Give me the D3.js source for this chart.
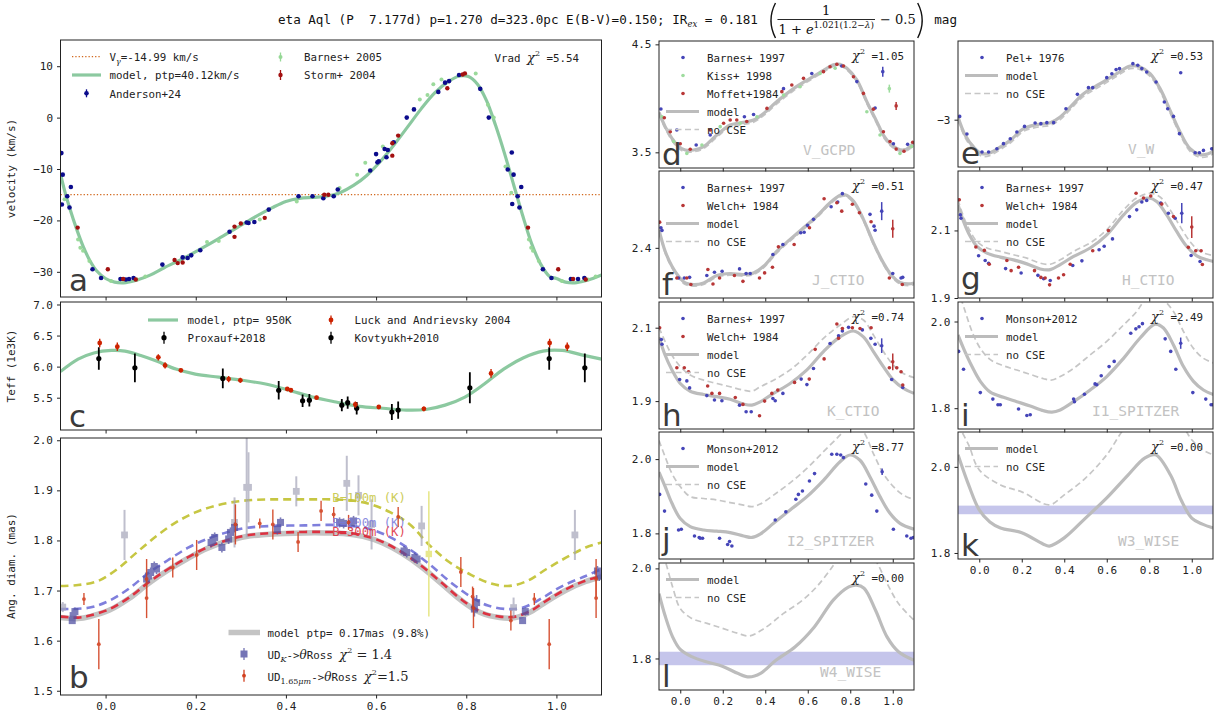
<!DOCTYPE html>
<html><head><meta charset="utf-8">
<script src="https://cdn.jsdelivr.net/npm/d3@7"></script>
<style>
body{margin:0;background:#fff;}
svg text{white-space:pre;}
</style></head><body>
<svg id="chart" width="1217" height="718"></svg>
<script>
// ================= DATA =================
const phaseTicks = [0.0, 0.2, 0.4, 0.6, 0.8, 1.0];
const vGamma = -14.99;
// panel a : radial velocity  [phase, km/s, err]
const velModel = [[-0.1,-11.0],[-0.09,-14.5],[-0.08,-17.5],[-0.065,-21.5],[-0.05,-25.0],[-0.035,-27.8],[-0.02,-29.8],[0.0,-31.3],[0.02,-32.0],[0.045,-32.1],[0.07,-31.6],[0.1,-30.6],[0.13,-29.2],[0.17,-27.5],[0.21,-25.6],[0.25,-23.6],[0.29,-21.5],[0.33,-19.4],[0.37,-17.5],[0.40,-16.3],[0.43,-15.7],[0.46,-15.5],[0.49,-15.3],[0.52,-14.6],[0.55,-13.2],[0.58,-11.2],[0.61,-8.5],[0.64,-5.3],[0.67,-1.8],[0.70,1.7],[0.73,4.8],[0.76,7.0],[0.785,8.1],[0.805,8.0],[0.825,6.5],[0.845,3.3],[0.865,-1.5],[0.885,-7.0],[0.905,-13.0],[0.925,-19.0],[0.945,-24.5],[0.965,-28.5],[0.985,-30.9],[1.0,-31.3],[1.02,-32.0],[1.045,-32.1],[1.07,-31.6],[1.1,-30.6]];
const velAnderson = [[-0.098,-6.9],[-0.095,-11.1],[-0.097,-16.9],[-0.085,-15.3],[-0.080,-17.5],[-0.077,-13.5],[-0.029,-29.5],[-0.010,-31.2],[0.033,-31.4],[0.045,-31.5],[0.052,-31.4],[0.062,-31.2],[0.126,-28.6],[0.171,-27.2],[0.182,-27.3],[0.190,-26.8],[0.210,-25.8],[0.275,-22.2],[0.313,-20.4],[0.317,-20.5],[0.330,-20.3],[0.362,-17.9],[0.428,-15.3],[0.459,-15.3],[0.483,-15.7],[0.506,-15.3],[0.515,-14.0],[0.587,-10.3],[0.600,-7.1],[0.603,-8.7],[0.606,-8.5],[0.619,-6.1],[0.623,-7.7],[0.626,-6.3],[0.639,-4.8],[0.668,0.0],[0.684,1.6],[0.738,5.0],[0.753,6.8],[0.762,7.1],[0.784,8.3],[0.831,5.6],[0.850,0.0],[0.892,-10.1],[0.901,-6.8],[0.902,-16.8],[0.905,-11.1],[0.914,-15.3],[0.918,-17.5],[0.922,-13.5],[0.970,-29.5],[0.989,-31.2],[1.032,-31.4],[1.048,-31.4],[1.062,-31.2]];
const velStorm = [[-0.062,-21.4],[0.005,-29.5],[0.039,-31.4],[0.067,-31.5],[0.153,-27.7],[0.160,-28.3],[0.171,-28.2],[0.286,-23.2],[0.286,-21.2],[0.300,-20.6],[0.353,-19.5],[0.485,-15.0],[0.494,-15.0],[0.636,-7.4],[0.636,-5.0],[0.649,-3.5],[0.758,5.7],[0.792,8.4],[0.797,8.6],[0.937,-21.4],[1.004,-29.5],[1.037,-31.4],[1.065,-31.5]];
const velBarnes = [[-0.091,-15.9],[-0.061,-23.7],[-0.056,-25.3],[-0.05,-25.9],[-0.036,-27.9],[0.012,-31.8],[0.07,-31.5],[0.088,-30.9],[0.225,-24.2],[0.251,-24.0],[0.342,-19.8],[0.424,-16.3],[0.519,-13.7],[0.558,-11.1],[0.576,-8.8],[0.615,-5.6],[0.697,3.5],[0.714,4.4],[0.727,6.5],[0.745,7.4],[0.821,8.6],[0.848,2.5],[0.861,0.0],[0.887,-9.5],[0.900,-14.6],[0.939,-23.7],[0.944,-25.3],[0.948,-25.9],[0.961,-27.9],[1.012,-31.8],[1.07,-31.5],[1.087,-30.9]];
// panel c : Teff (1e3 K)
const teffModel = [[-0.1,5.92],[-0.061,6.12],[-0.026,6.22],[0.013,6.26],[0.043,6.25],[0.078,6.18],[0.113,6.09],[0.156,5.96],[0.199,5.88],[0.251,5.83],[0.303,5.78],[0.355,5.72],[0.407,5.62],[0.459,5.51],[0.511,5.43],[0.563,5.36],[0.615,5.33],[0.667,5.30],[0.71,5.31],[0.753,5.38],[0.797,5.51],[0.84,5.72],[0.883,5.96],[0.926,6.14],[0.97,6.25],[1.013,6.26],[1.056,6.19],[1.1,6.12]];
const teffLuck = [[-0.013,6.38,0.07],[0.026,6.32,0.07],[0.117,6.15,0.05],[0.132,6.02,0.05],[0.167,5.94,0.03],[0.273,5.80,0.05],[0.299,5.78,0.04],[0.403,5.64,0.03],[0.411,5.62,0.03],[0.468,5.50,0.03],[0.554,5.39,0.05],[0.606,5.35,0.03],[0.706,5.32,0.04],[0.855,5.89,0.07],[0.985,6.38,0.07],[1.024,6.32,0.07]];
const teffProxauf = [[-0.015,6.13,0.18],[0.065,5.98,0.23],[0.26,5.81,0.16],[0.384,5.62,0.15],[0.808,5.66,0.25],[0.984,6.13,0.18],[1.063,5.98,0.23]];
const teffKovtyukh = [[0.437,5.45,0.1],[0.452,5.46,0.1],[0.524,5.38,0.1],[0.537,5.42,0.1],[0.557,5.33,0.1],[0.635,5.27,0.13],[0.649,5.30,0.14]];
// panel b : angular diameter (mas)
const diamModel = [[-0.1,1.646],[-0.061,1.644],[-0.035,1.648],[0.009,1.661],[0.052,1.684],[0.095,1.714],[0.139,1.741],[0.182,1.764],[0.225,1.784],[0.268,1.798],[0.312,1.808],[0.355,1.812],[0.398,1.814],[0.442,1.815],[0.485,1.815],[0.528,1.814],[0.571,1.808],[0.615,1.795],[0.658,1.774],[0.701,1.747],[0.745,1.714],[0.788,1.681],[0.831,1.656],[0.874,1.646],[0.909,1.646],[0.944,1.658],[0.978,1.678],[1.022,1.701],[1.065,1.718],[1.1,1.727]];
const diamB300 = [[-0.1,1.648],[-0.061,1.646],[-0.035,1.650],[0.009,1.663],[0.052,1.686],[0.095,1.716],[0.139,1.743],[0.182,1.766],[0.225,1.786],[0.268,1.800],[0.312,1.810],[0.355,1.814],[0.398,1.816],[0.442,1.817],[0.485,1.817],[0.528,1.816],[0.571,1.810],[0.615,1.797],[0.658,1.776],[0.701,1.749],[0.745,1.716],[0.788,1.683],[0.831,1.658],[0.874,1.648],[0.909,1.648],[0.944,1.660],[0.978,1.680],[1.022,1.703],[1.065,1.720],[1.1,1.729]];
const diamB200 = [[-0.1,1.663],[-0.035,1.666],[0.009,1.68],[0.052,1.704],[0.095,1.735],[0.139,1.761],[0.182,1.785],[0.225,1.803],[0.268,1.816],[0.312,1.825],[0.372,1.829],[0.442,1.830],[0.502,1.831],[0.545,1.829],[0.589,1.822],[0.632,1.806],[0.675,1.782],[0.719,1.752],[0.762,1.719],[0.806,1.69],[0.848,1.67],[0.892,1.663],[0.926,1.666],[0.97,1.686],[1.013,1.709],[1.065,1.729],[1.1,1.743]];
const diamB100 = [[-0.1,1.709],[-0.061,1.711],[-0.017,1.719],[0.026,1.743],[0.069,1.776],[0.113,1.809],[0.156,1.836],[0.199,1.856],[0.242,1.869],[0.286,1.877],[0.329,1.881],[0.372,1.882],[0.416,1.882],[0.459,1.882],[0.502,1.882],[0.545,1.880],[0.589,1.872],[0.632,1.856],[0.675,1.832],[0.719,1.79],[0.762,1.757],[0.805,1.734],[0.848,1.716],[0.892,1.709],[0.935,1.719],[0.978,1.743],[1.022,1.766],[1.065,1.786],[1.1,1.796]];
const diamOther = [[-0.095,1.667,0.01],[0.042,1.811,0.05],[0.286,1.836,0.05],[0.313,1.906,0.1],[0.317,1.906,0.07],[0.423,1.898,0.03],[0.535,1.914,0.055],[0.561,1.890,0.04],[0.590,1.832,0.05],[0.701,1.829,0.04],[0.905,1.666,0.02],[1.041,1.811,0.05]];
const diamYellow = [[0.717,1.773,0.125]];
const diamUDK = [[-0.074,1.640,0.006],[-0.072,1.650,0.008],[-0.068,1.658,0.008],[0.091,1.723,0.01],[0.095,1.729,0.01],[0.1,1.736,0.01],[0.108,1.748,0.01],[0.113,1.743,0.01],[0.234,1.796,0.01],[0.238,1.800,0.01],[0.242,1.806,0.01],[0.258,1.786,0.01],[0.273,1.803,0.01],[0.277,1.816,0.01],[0.286,1.826,0.01],[0.381,1.822,0.01],[0.388,1.836,0.01],[0.519,1.836,0.01],[0.528,1.834,0.01],[0.545,1.834,0.01],[0.55,1.839,0.01],[0.662,1.779,0.01],[0.668,1.776,0.01],[0.686,1.766,0.01],[0.691,1.763,0.01],[0.818,1.663,0.015],[0.823,1.676,0.015],[0.925,1.640,0.006],[0.931,1.658,0.008],[1.091,1.739,0.01],[1.095,1.729,0.01]];
const diamUD165 = [[-0.048,1.683,0.012],[-0.015,1.593,0.05],[0.091,1.723,0.04],[0.091,1.685,0.04],[0.149,1.746,0.02],[0.202,1.771,0.03],[0.288,1.832,0.04],[0.342,1.834,0.01],[0.371,1.832,0.03],[0.427,1.797,0.02],[0.478,1.859,0.02],[0.506,1.852,0.015],[0.539,1.836,0.015],[0.649,1.847,0.02],[0.788,1.737,0.03],[0.814,1.688,0.02],[0.816,1.665,0.04],[0.899,1.640,0.02],[0.951,1.683,0.012],[0.984,1.593,0.05],[1.088,1.723,0.04],[1.088,1.685,0.04]];
// panel d : V_GCPD (mag)
const vgcpdModel = [[-0.1,3.87],[-0.071,3.738],[-0.039,3.63],[-0.008,3.553],[0.024,3.522],[0.063,3.522],[0.11,3.553],[0.172,3.66],[0.235,3.753],[0.298,3.778],[0.345,3.80],[0.392,3.86],[0.455,3.97],[0.533,4.09],[0.611,4.185],[0.674,4.26],[0.721,4.31],[0.752,4.315],[0.784,4.278],[0.831,4.17],[0.878,3.97],[0.925,3.784],[0.956,3.66],[0.987,3.583],[1.019,3.537],[1.05,3.522],[1.082,3.553],[1.1,3.6]];
const vgcpdNoCSE = [[-0.1,3.85],[-0.071,3.72],[-0.039,3.61],[-0.008,3.535],[0.024,3.505],[0.063,3.505],[0.11,3.535],[0.172,3.64],[0.235,3.735],[0.298,3.758],[0.345,3.78],[0.392,3.84],[0.455,3.95],[0.533,4.07],[0.611,4.167],[0.674,4.243],[0.721,4.295],[0.752,4.30],[0.784,4.263],[0.831,4.153],[0.878,3.952],[0.925,3.765],[0.956,3.64],[0.987,3.565],[1.019,3.52],[1.05,3.505],[1.082,3.535],[1.1,3.58]];
const vgcpdBarnes = [[-0.091,3.901],[-0.016,3.707],[0.075,3.568],[0.141,3.66],[0.302,3.83],[0.345,3.85],[0.486,4.09],[0.619,4.23],[0.76,4.30],[0.831,4.155],[0.917,3.91],[1.003,3.58],[1.07,3.574],[0.953,4.247,0.046]];
const vgcpdKiss = [[-0.086,3.83],[-0.031,3.6],[0.031,3.49],[0.102,3.568],[0.188,3.738],[0.282,3.77],[0.361,3.83],[0.486,4.03],[0.564,4.108],[0.658,4.23],[0.729,4.278],[0.878,3.876],[0.94,3.66],[1.034,3.49],[1.089,3.553],[0.984,4.09,0.037]];
const vgcpdMoffet = [[-0.075,3.82],[-0.047,3.69],[0,3.58],[0.047,3.528],[0.141,3.707],[0.204,3.77],[0.235,3.80],[0.266,3.80],[0.313,3.785],[0.408,3.907],[0.478,4.062],[0.525,4.123],[0.58,4.185],[0.674,4.247],[0.705,4.293],[0.737,4.315],[0.768,4.30],[0.815,4.2],[0.862,4.046],[0.909,3.90],[0.956,3.69],[0.987,3.6],[1.016,3.53],[1.053,3.51],[1.094,3.593],[1.016,3.93,0.037]];
// panel e : V_W
const vwModel = [[-0.1,-2.976],[-0.066,-3.142],[-0.027,-3.248],[0.013,-3.309],[0.052,-3.3],[0.099,-3.248],[0.146,-3.188],[0.208,-3.082],[0.271,-3.045],[0.334,-3.027],[0.381,-2.976],[0.428,-2.885],[0.491,-2.764],[0.569,-2.673],[0.647,-2.582],[0.71,-2.512],[0.757,-2.521],[0.804,-2.582],[0.851,-2.718],[0.898,-2.915],[0.945,-3.112],[0.992,-3.264],[1.039,-3.318],[1.078,-3.309],[1.105,-3.279]];
const vwNoCSE = [[-0.1,-3.0],[-0.066,-3.166],[-0.027,-3.272],[0.013,-3.333],[0.052,-3.324],[0.099,-3.272],[0.146,-3.212],[0.208,-3.106],[0.271,-3.069],[0.334,-3.051],[0.381,-3.0],[0.428,-2.909],[0.491,-2.788],[0.569,-2.697],[0.647,-2.606],[0.71,-2.536],[0.757,-2.545],[0.804,-2.606],[0.851,-2.742],[0.898,-2.939],[0.945,-3.136],[0.992,-3.288],[1.039,-3.342],[1.078,-3.333],[1.105,-3.303]];
const vwPel = [[-0.092,-2.970],[-0.058,-3.130],[0.013,-3.294],[0.044,-3.294],[0.083,-3.264],[0.114,-3.218],[0.146,-3.173],[0.177,-3.112],[0.213,-3.061],[0.263,-3.030],[0.29,-3.036],[0.318,-3.027],[0.35,-3.027],[0.408,-2.900],[0.462,-2.770],[0.514,-2.709],[0.534,-2.709],[0.6,-2.618],[0.624,-2.582],[0.644,-2.545],[0.66,-2.536],[0.723,-2.491],[0.746,-2.506],[0.765,-2.536],[0.788,-2.567],[0.832,-2.658],[0.871,-2.839],[0.887,-2.9],[0.914,-2.970],[0.942,-3.127],[0.948,-2.573,0.006],[1.016,-3.3],[1.036,-3.3],[1.055,-3.279],[1.094,-3.264]];
// panel f : J_CTIO
const jModel = [[-0.1,2.49],[-0.071,2.383],[-0.039,2.308],[-0.008,2.258],[0.024,2.225],[0.063,2.217],[0.11,2.225],[0.172,2.262],[0.235,2.272],[0.298,2.267],[0.345,2.275],[0.392,2.308],[0.455,2.383],[0.517,2.442],[0.58,2.5],[0.643,2.558],[0.705,2.625],[0.752,2.662],[0.776,2.665],[0.815,2.633],[0.862,2.542],[0.909,2.425],[0.956,2.325],[0.995,2.262],[1.034,2.228],[1.074,2.22],[1.1,2.225]];
const jNoCSE = [[-0.1,2.482],[-0.071,2.375],[-0.039,2.3],[-0.008,2.25],[0.024,2.217],[0.063,2.209],[0.11,2.217],[0.172,2.254],[0.235,2.264],[0.298,2.259],[0.345,2.267],[0.392,2.3],[0.455,2.375],[0.517,2.434],[0.58,2.492],[0.643,2.55],[0.705,2.617],[0.752,2.654],[0.776,2.657],[0.815,2.625],[0.862,2.534],[0.909,2.417],[0.956,2.317],[0.995,2.254],[1.034,2.22],[1.074,2.212],[1.1,2.217]];
const jBarnes = [[-0.091,2.5],[-0.086,2.487],[-0.008,2.25],[0.019,2.25],[0.044,2.253],[0.125,2.262],[0.161,2.278],[0.197,2.283],[0.279,2.295],[0.31,2.272],[0.329,2.272],[0.436,2.367],[0.483,2.417],[0.567,2.475],[0.583,2.478],[0.599,2.512],[0.627,2.542],[0.71,2.605],[0.741,2.628],[0.763,2.67],[0.893,2.567],[0.912,2.508],[0.917,2.488],[1.0,2.272],[1.039,2.25],[1.047,2.253],[0.948,2.583,0.045]];
const jWelch = [[-0.097,2.528],[-0.016,2.25],[0.031,2.25],[0.05,2.217],[0.13,2.292],[0.154,2.22],[0.185,2.25],[0.255,2.262],[0.295,2.233],[0.373,2.25],[0.397,2.275],[0.434,2.303],[0.462,2.405],[0.536,2.417],[0.608,2.5],[0.677,2.645],[0.737,2.625],[0.76,2.583],[0.81,2.617],[0.843,2.575],[0.898,2.53],[0.984,2.25],[1.045,2.217],[1.0,2.495,0.045]];
// panel g : H_CTIO
const hModel = [[-0.1,2.176],[-0.074,2.127],[-0.042,2.082],[-0.011,2.053],[0.036,2.033],[0.099,2.021],[0.161,2.013],[0.224,2.001],[0.287,1.986],[0.334,1.984],[0.381,1.999],[0.444,2.023],[0.522,2.048],[0.6,2.087],[0.679,2.146],[0.741,2.183],[0.796,2.196],[0.835,2.186],[0.882,2.146],[0.929,2.097],[0.976,2.053],[1.024,2.025],[1.071,2.013],[1.105,2.008]];
const hNoCSE = [[-0.1,2.191],[-0.074,2.141],[-0.042,2.097],[-0.011,2.067],[0.036,2.048],[0.099,2.038],[0.161,2.028],[0.224,2.018],[0.287,2.003],[0.334,2.0],[0.381,2.013],[0.444,2.038],[0.522,2.063],[0.6,2.102],[0.679,2.161],[0.741,2.196],[0.804,2.21],[0.851,2.199],[0.898,2.161],[0.945,2.112],[0.992,2.067],[1.039,2.038],[1.105,2.025]];
const hBarnes = [[-0.089,2.146],[-0.086,2.136],[-0.003,2.025],[0.028,2.011],[0.044,2.003],[0.124,1.987],[0.197,1.974],[0.276,1.967],[0.303,1.957],[0.334,1.952],[0.44,1.996],[0.483,2.01],[0.564,2.043],[0.588,2.053],[0.627,2.075],[0.707,2.141],[0.741,2.161],[0.765,2.184],[0.788,2.189],[0.854,2.181],[0.89,2.151],[0.922,2.136],[0.997,2.026],[1.039,2.008],[0.953,2.151,0.03]];
const hWelch = [[-0.094,2.191],[-0.016,2.051],[0.024,2.041],[0.047,2.0],[0.13,2.011],[0.15,1.981],[0.185,1.991],[0.26,1.981],[0.29,1.961],[0.31,1.959],[0.331,1.939],[0.373,1.959],[0.397,1.969],[0.428,2.0],[0.534,2.04],[0.608,2.1],[0.738,2.21],[0.773,2.196],[0.807,2.202],[0.859,2.178],[0.914,2.141],[0.984,2.05],[1.019,2.04],[1.044,2.04],[1.05,1.999],[1.0,2.11,0.032]];
// panel h : K_CTIO
const kModel = [[-0.1,2.074],[-0.071,2.025],[-0.039,1.985],[0,1.948],[0.047,1.927],[0.11,1.918],[0.172,1.912],[0.235,1.905],[0.298,1.892],[0.337,1.889],[0.376,1.898],[0.439,1.921],[0.517,1.948],[0.596,1.985],[0.674,2.035],[0.752,2.075],[0.815,2.091],[0.862,2.075],[0.909,2.035],[0.956,1.994],[1.003,1.957],[1.05,1.935],[1.1,1.921]];
const kNoCSE = [[-0.1,2.1],[-0.071,2.062],[-0.039,2.025],[0,1.994],[0.047,1.971],[0.11,1.957],[0.172,1.948],[0.235,1.939],[0.298,1.93],[0.337,1.927],[0.376,1.939],[0.439,1.957],[0.517,1.985],[0.596,2.025],[0.674,2.071],[0.752,2.107],[0.815,2.13],[0.862,2.121],[0.909,2.08],[0.956,2.035],[1.003,1.998],[1.05,1.975],[1.1,1.964]];
const kBarnes = [[-0.089,2.068],[-0.086,2.055],[-0.003,1.959],[0.031,1.955],[0.044,1.936],[0.125,1.915],[0.161,1.903],[0.196,1.901],[0.279,1.889],[0.31,1.871],[0.334,1.871],[0.436,1.907],[0.447,1.901],[0.483,1.921],[0.569,1.96],[0.596,1.945],[0.627,1.989],[0.705,2.057],[0.745,2.078],[0.763,2.091],[0.792,2.101],[0.857,2.094],[0.897,2.071],[0.917,2.055],[0.995,1.959],[1.047,1.937],[0.948,2.051,0.02]];
const kWelch = [[-0.097,2.1],[-0.016,1.991],[0.019,1.991],[0.039,1.98],[0.129,1.941],[0.149,1.921],[0.185,1.921],[0.259,1.91],[0.295,1.891],[0.373,1.86],[0.397,1.9],[0.431,1.921],[0.459,1.93],[0.538,1.951],[0.607,1.96],[0.635,2.041],[0.677,2.015],[0.737,2.11],[0.745,2.071],[0.763,2.098],[0.81,2.1],[0.846,2.098],[0.898,2.1],[0.984,1.991],[1.019,1.991],[1.039,1.98],[1.047,1.944],[1.0,2.007,0.023]];
// panel i : I1_SPITZER
const i1Model = [[-0.1,1.969],[-0.074,1.938],[-0.034,1.896],[0.005,1.862],[0.052,1.837],[0.114,1.825],[0.177,1.815],[0.24,1.805],[0.303,1.794],[0.342,1.791],[0.381,1.796],[0.444,1.815],[0.522,1.842],[0.6,1.873],[0.679,1.915],[0.757,1.962],[0.828,1.994],[0.867,1.985],[0.914,1.946],[0.961,1.896],[1.008,1.862],[1.055,1.842],[1.105,1.831]];
const i1NoCSE = [[-0.1,2.075],[-0.066,2.023],[-0.034,1.977],[0.005,1.938],[0.052,1.912],[0.114,1.898],[0.177,1.888],[0.24,1.878],[0.303,1.868],[0.342,1.865],[0.381,1.873],[0.444,1.892],[0.522,1.923],[0.6,1.954],[0.679,1.992],[0.741,2.023],[0.773,2.045],[0.828,2.062],[0.867,2.05],[0.914,2.023],[0.961,1.977],[1.008,1.938],[1.055,1.915],[1.105,1.904]];
const i1Monson = [[-0.097,1.931],[-0.074,1.89],[0.005,1.836],[0.064,1.821],[0.088,1.808],[0.099,1.808],[0.185,1.798],[0.224,1.783],[0.24,1.785],[0.444,1.821],[0.448,1.815],[0.495,1.832],[0.545,1.856],[0.553,1.854],[0.574,1.875],[0.611,1.896],[0.635,1.908],[0.713,1.973],[0.737,1.983],[0.752,1.988],[0.768,1.995],[0.875,1.96],[0.901,1.931],[0.925,1.89],[1.005,1.836],[1.066,1.821],[1.091,1.808],[1.099,1.808],[0.948,1.95,0.013]];
// panel j : I2_SPITZER
const i2Model = [[-0.1,1.965],[-0.071,1.926],[-0.039,1.881],[0,1.840],[0.047,1.818],[0.11,1.809],[0.172,1.806],[0.235,1.802],[0.298,1.793],[0.337,1.789],[0.376,1.798],[0.439,1.827],[0.517,1.863],[0.596,1.899],[0.674,1.943],[0.752,1.993],[0.799,2.011],[0.846,1.997],[0.893,1.952],[0.94,1.899],[0.987,1.854],[1.034,1.827],[1.1,1.811]];
const i2NoCSE = [[-0.1,2.05],[-0.071,2.006],[-0.039,1.961],[0,1.926],[0.047,1.899],[0.11,1.894],[0.172,1.89],[0.235,1.883],[0.298,1.876],[0.337,1.872],[0.376,1.879],[0.439,1.903],[0.517,1.936],[0.596,1.975],[0.674,2.02],[0.737,2.056],[0.768,2.074],[0.815,2.096],[0.862,2.074],[0.909,2.015],[0.956,1.961],[1.003,1.926],[1.05,1.903],[1.1,1.891]];
const i2Monson = [[-0.097,1.905],[-0.074,1.86],[-0.008,1.809],[0.005,1.811],[0.067,1.793],[0.089,1.789],[0.094,1.787],[0.105,1.787],[0.185,1.787],[0.223,1.77],[0.232,1.778],[0.243,1.766],[0.447,1.836],[0.497,1.858],[0.544,1.892],[0.556,1.905],[0.575,1.914],[0.608,1.941],[0.632,1.961],[0.713,2.013],[0.737,2.013],[0.755,2.011],[0.768,2.004],[0.873,1.933],[0.901,1.903],[0.925,1.86],[1.003,1.811],[1.066,1.793],[1.086,1.787],[1.097,1.789],[0.95,1.966,0.009]];
// panel k : W3_WISE
const w3Model = [[-0.1,2.028],[-0.05,1.958],[0.0,1.9],[0.05,1.872],[0.1,1.858],[0.2,1.847],[0.3,1.821],[0.33,1.816],[0.4,1.835],[0.5,1.881],[0.6,1.928],[0.7,1.981],[0.78,2.021],[0.83,2.028],[0.9,1.981],[0.95,1.923],[1.0,1.881],[1.05,1.867],[1.1,1.858]];
const w3NoCSE = [[-0.1,2.098],[-0.05,2.051],[0.0,1.993],[0.1,1.958],[0.2,1.942],[0.33,1.912],[0.4,1.935],[0.5,1.974],[0.6,2.028],[0.7,2.098],[0.83,2.133],[0.95,2.098],[1.0,2.063],[1.05,2.04],[1.1,2.028]];
const w3Band = [1.90, 0.010];
// panel l : W4_WISE
const w4Model = [[-0.1,1.944],[-0.072,1.896],[-0.036,1.848],[0,1.82],[0.054,1.804],[0.126,1.792],[0.198,1.783],[0.27,1.767],[0.324,1.759],[0.378,1.767],[0.45,1.796],[0.541,1.826],[0.631,1.87],[0.721,1.93],[0.793,1.959],[0.829,1.963],[0.865,1.956],[0.919,1.907],[0.973,1.848],[1.027,1.815],[1.1,1.796]];
const w4NoCSE = [[-0.1,2.05],[-0.072,2.018],[-0.036,1.959],[0,1.911],[0.054,1.889],[0.126,1.878],[0.198,1.867],[0.27,1.856],[0.324,1.85],[0.396,1.867],[0.486,1.9],[0.577,1.93],[0.649,1.963],[0.721,2.007],[0.757,2.033],[0.847,2.06],[0.919,2.018],[0.973,1.967],[1.027,1.922],[1.1,1.885]];
const w4Band = [1.80, 0.015];

// ================= DRAWING =================
const MONO = '"DejaVu Sans Mono", monospace';
const SERIF = '"DejaVu Serif", serif';
const SANS = '"DejaVu Sans", sans-serif';
const svg = d3.select('#chart');
svg.append('rect').attr('width',1217).attr('height',718).attr('fill','#fff');
let clipN = 0;

function makePanel(b, yDom, yTicks, showX, yFmt) {
  const x = d3.scaleLinear().domain([-0.1, 1.1]).range([b.x0, b.x1]);
  const y = d3.scaleLinear().domain(yDom).range([b.y1, b.y0]);
  const cid = 'clip' + (clipN++);
  svg.append('clipPath').attr('id', cid).append('rect')
    .attr('x', b.x0).attr('y', b.y0).attr('width', b.x1 - b.x0).attr('height', b.y1 - b.y0);
  const g = svg.append('g');
  const xa = g.append('g').attr('transform', `translate(0,${b.y1})`)
    .call(d3.axisBottom(x).tickValues(phaseTicks).tickSizeInner(3.5).tickSizeOuter(0).tickPadding(4)
      .tickFormat(showX ? d3.format('.1f') : () => ''));
  const ya = g.append('g').attr('transform', `translate(${b.x0},0)`)
    .call(d3.axisLeft(y).tickValues(yTicks).tickSizeInner(3.5).tickSizeOuter(0).tickPadding(4)
      .tickFormat(yFmt || d3.format('.1f')));
  [xa, ya].forEach(a => {
    a.select('.domain').remove();
    a.selectAll('text').attr('font-family', MONO).attr('font-size', 11).attr('fill', '#222');
    a.selectAll('line').attr('stroke', '#222');
  });
  const inner = g.append('g').attr('clip-path', `url(#${cid})`);
  return { x, y, g, inner, b };
}
function frame(p) {
  const b = p.b;
  p.g.append('rect').attr('x', b.x0).attr('y', b.y0).attr('width', b.x1 - b.x0).attr('height', b.y1 - b.y0)
    .attr('fill', 'none').attr('stroke', '#222').attr('stroke-width', 1);
}
function curve(p, data, color, width, dash, opacity) {
  p.inner.append('path').datum(data)
    .attr('d', d3.line().x(d => p.x(d[0])).y(d => p.y(d[1])).curve(d3.curveCatmullRom.alpha(0.5)))
    .attr('fill', 'none').attr('stroke', color).attr('stroke-width', width)
    .attr('stroke-dasharray', dash || null).attr('opacity', opacity == null ? 1 : opacity)
    .attr('stroke-linecap', 'butt');
}
function points(p, data, color, r, errW, opacity, shape) {
  const gg = p.inner.append('g').attr('opacity', opacity == null ? 1 : opacity);
  data.filter(d => d[2]).forEach(d => {
    gg.append('line').attr('x1', p.x(d[0])).attr('x2', p.x(d[0]))
      .attr('y1', p.y(d[1] - d[2])).attr('y2', p.y(d[1] + d[2]))
      .attr('stroke', color).attr('stroke-width', errW || 1.2);
  });
  if (shape === 'square') {
    gg.selectAll(null).data(data).join('rect')
      .attr('x', d => p.x(d[0]) - r).attr('y', d => p.y(d[1]) - r)
      .attr('width', 2 * r).attr('height', 2 * r).attr('fill', color);
  } else {
    gg.selectAll(null).data(data).join('circle')
      .attr('cx', d => p.x(d[0])).attr('cy', d => p.y(d[1])).attr('r', r).attr('fill', color);
  }
}
function txt(x, y, str, o = {}) {
  const t = svg.append('text').attr('x', x).attr('y', y).attr('font-family', o.f || MONO)
    .attr('font-size', o.s || 10.8).attr('fill', o.c || '#222').text(str);
  if (o.a) t.attr('text-anchor', o.a);
  if (o.i) t.attr('font-style', 'italic');
  if (o.op != null) t.attr('opacity', o.op);
  return t;
}
function rich(x, y, parts, anchor, color) {
  const t = svg.append('text').attr('x', x).attr('y', y).attr('fill', color || '#222');
  if (anchor) t.attr('text-anchor', anchor);
  parts.forEach(([s, o]) => {
    const sp = t.append('tspan').text(s).attr('font-family', o.f || MONO).attr('font-size', o.s || 10.8);
    if (o.i) sp.attr('font-style', 'italic');
    if (o.dy) sp.attr('dy', o.dy);
  });
  return t;
}
function chiParts(val, pre) {
  const arr = [];
  if (pre) arr.push([pre, {}]);
  arr.push(['χ', { f: SERIF, s: 13, i: true }]);
  arr.push(['2', { f: SERIF, s: 8, dy: -6 }]);
  arr.push([' =' + val, { dy: 6 }]);
  return arr;
}
function lineSample(x0, x1, y, color, w, dash, op) {
  svg.append('line').attr('x1', x0).attr('x2', x1).attr('y1', y).attr('y2', y)
    .attr('stroke', color).attr('stroke-width', w).attr('stroke-dasharray', dash || null).attr('opacity', op == null ? 1 : op);
}
function errMark(x, y, color, r, half, shape, op) {
  const g = svg.append('g').attr('opacity', op == null ? 1 : op);
  if (half) g.append('line').attr('x1', x).attr('x2', x).attr('y1', y - half).attr('y2', y + half).attr('stroke', color).attr('stroke-width', 1.3);
  if (shape === 'square') g.append('rect').attr('x', x - r).attr('y', y - r).attr('width', 2 * r).attr('height', 2 * r).attr('fill', color);
  else g.append('circle').attr('cx', x).attr('cy', y).attr('r', r).attr('fill', color);
}
function panelLetter(x, y, s) {
  txt(x, y, s, { f: SANS, s: 31, c: '#3a3a3a' });
}

// ---------- title ----------
(function () {
  const tg = svg.append('g');
  let tx = 0;
  function part(str, o) {
    const t = tg.append('text').attr('x', tx + (o.dx || 0)).attr('y', o.y).attr('font-family', o.f)
      .attr('font-size', o.s).attr('fill', '#111').text(str);
    if (o.i) t.attr('font-style', 'italic');
    const w = t.node().getComputedTextLength();
    tx += w + (o.dx || 0);
    return t;
  }
  function paren(open) {
    const x0 = tx + 2;
    const d = open ? `M${x0 + 8},3 Q${x0 - 1},20.5 ${x0 + 8},38` : `M${x0},3 Q${x0 + 9},20.5 ${x0},38`;
    tg.append('path').attr('d', d).attr('fill', 'none').attr('stroke', '#111').attr('stroke-width', 1.4);
    tx += 11;
  }
  part('eta Aql (P  7.177d) p=1.270 d=323.0pc E(B-V)=0.150; IR', { f: MONO, s: 12.6, y: 24 });
  part('ex', { f: SERIF, s: 8.5, y: 27, i: true });
  part(' = 0.181 ', { f: MONO, s: 12.6, y: 24 });
  paren(true);
  const fx = tx + 2; tx = fx;
  part('1 + ', { f: SERIF, s: 13, y: 34 });
  part('e', { f: SERIF, s: 13, y: 34, i: true });
  part('1.021(1.2−', { f: SERIF, s: 9, y: 27.5 });
  part('λ', { f: SERIF, s: 9, y: 27.5, i: true });
  part(')', { f: SERIF, s: 9, y: 27.5 });
  const fw = tx - fx;
  tg.append('text').attr('x', fx + fw / 2).attr('y', 15).attr('text-anchor', 'middle')
    .attr('font-family', SERIF).attr('font-size', 13).attr('fill', '#111').text('1');
  tg.append('line').attr('x1', fx - 1).attr('x2', tx + 1).attr('y1', 19.5).attr('y2', 19.5).attr('stroke', '#111').attr('stroke-width', 0.9);
  tx += 4;
  part('− 0.5', { f: SERIF, s: 13, y: 24, dx: 2 });
  paren(false);
  part(' mag', { f: MONO, s: 12.6, y: 24 });
  tg.attr('transform', `translate(${617.5 - tx / 2},0)`);
})();

// ---------- panel a : velocity ----------
const pa = makePanel({ x0: 60.5, x1: 601.5, y0: 40, y1: 297 }, [-34.9, 15.1], [-30, -20, -10, 0, 10], false, d3.format('d'));
pa.inner.append('line').attr('x1', pa.x(-0.1)).attr('x2', pa.x(1.1)).attr('y1', pa.y(vGamma)).attr('y2', pa.y(vGamma))
  .attr('stroke', '#d2691e').attr('stroke-width', 1.3).attr('stroke-dasharray', '1.3,2');
curve(pa, velModel, '#8cc9a0', 3.2);
points(pa, velBarnes, '#96d896', 2.0, 1.2, 0.95);
points(pa, velAnderson, '#0b0b8c', 2.3, 1.3);
points(pa, velStorm, '#a31010', 2.2, 1.4);
frame(pa);
lineSample(72, 101, 56.7, '#d2691e', 1.3, '1.3,2');
rich(109.5, 61, [['V', {}], ['γ', { f: SERIF, s: 8, i: true, dy: 2.5 }], ['=-14.99 km/s', { dy: -2.5 }]]);
lineSample(72, 101, 75, '#8cc9a0', 3.2);
txt(109.5, 79, 'model, ptp=40.12km/s');
errMark(86.5, 93.3, '#0b0b8c', 2.3, 4);
txt(109.5, 97.5, 'Anderson+24');
errMark(280.5, 57, '#96d896', 2.0, 4.5);
txt(304, 61, 'Barnes+ 2005');
errMark(280.5, 75, '#a31010', 2.2, 5);
txt(304, 79, 'Storm+ 2004');
rich(579, 62, chiParts('5.54', 'Vrad '), 'end');
panelLetter(69, 291, 'a');
txt(15, 168.5, 'velocity (km/s)', { s: 11, a: 'middle' }).attr('transform', 'rotate(-90,15,168.5)');

// ---------- panel c : Teff ----------
const pc = makePanel({ x0: 60.5, x1: 601.5, y0: 302, y1: 430 }, [4.98, 7.04], [5.5, 6.0, 6.5, 7.0], false);
curve(pc, teffModel, '#8cc9a0', 3.2);
points(pc, teffProxauf, '#000', 2.6, 1.8);
points(pc, teffKovtyukh, '#000', 2.6, 1.8);
points(pc, teffLuck, '#cc2200', 2.4, 1.4);
frame(pc);
lineSample(148, 178, 320, '#8cc9a0', 3.2);
txt(187.5, 324, 'model, ptp= 950K');
errMark(164, 337.7, '#000', 2.6, 6);
txt(187.5, 342, 'Proxauf+2018');
errMark(331, 320, '#cc2200', 2.4, 4.5);
txt(354.5, 324, 'Luck and Andrievsky 2004');
errMark(331, 337.7, '#000', 2.6, 6);
txt(354.5, 342, 'Kovtyukh+2010');
panelLetter(69, 427, 'c');
txt(15, 366, 'Teff (1e3K)', { s: 11, a: 'middle' }).attr('transform', 'rotate(-90,15,366)');

// ---------- panel b : angular diameter ----------
const pb = makePanel({ x0: 60.5, x1: 601.5, y0: 438, y1: 695 }, [1.4915, 2.0045], [1.5, 1.6, 1.7, 1.8, 1.9, 2.0], true);
curve(pb, diamModel, '#c4c4c4', 5.5);
curve(pb, diamB100, '#c4c43a', 2.6, '8,5', 0.95);
curve(pb, diamB200, '#7878da', 2.6, '8,5', 0.95);
curve(pb, diamB300, '#dd2a3a', 2.6, '8,5', 0.95);
points(pb, diamYellow, '#e6e682', 3.2, 1.6, 0.9, 'square');
points(pb, diamOther, '#a4a4b8', 3.4, 2.0, 0.7, 'square');
points(pb, diamUDK, '#5252a4', 3.5, 1.6, 0.75, 'square');
points(pb, diamUD165, '#d2401f', 1.9, 1.4, 0.9);
pb.inner.append('text').attr('x', pb.x(0.503)).attr('y', pb.y(1.876)).attr('font-family', MONO).attr('font-size', 12.2).attr('fill', '#c4c43a').attr('opacity', 0.85).text('B=100m (K)');
pb.inner.append('text').attr('x', pb.x(0.503)).attr('y', pb.y(1.827)).attr('font-family', MONO).attr('font-size', 12.2).attr('fill', '#7878da').attr('opacity', 0.85).text('B=200m (K)');
pb.inner.append('text').attr('x', pb.x(0.503)).attr('y', pb.y(1.809)).attr('font-family', MONO).attr('font-size', 12.2).attr('fill', '#dd2a3a').attr('opacity', 0.85).text('B=300m (K)');
frame(pb);
lineSample(228.5, 260, 632.5, '#c4c4c4', 5.5);
txt(267.5, 637, 'model ptp= 0.17mas (9.8%)');
errMark(244, 654, '#5252a4', 3.5, 6, 'square', 0.8);
rich(267.5, 659, [['UD', {}], ['K', { f: SERIF, s: 8, i: true, dy: 2.5 }], ['->', { dy: -2.5 }], ['θ', { f: SERIF, s: 12, i: true }], ['Ross ', {}],
  ['χ', { f: SERIF, s: 13, i: true }], ['2', { f: SERIF, s: 8, dy: -6 }], [' = 1.4', { f: SERIF, s: 13, dy: 6 }]]);
errMark(244, 675.7, '#d2401f', 1.9, 6);
rich(267.5, 681, [['UD', {}], ['1.65', { f: SERIF, s: 8, dy: 2.5 }], ['μm', { f: SERIF, s: 8, i: true }], ['->', { dy: -2.5 }], ['θ', { f: SERIF, s: 12, i: true }], ['Ross ', {}],
  ['χ', { f: SERIF, s: 13, i: true }], ['2', { f: SERIF, s: 8, dy: -6 }], ['=1.5', { f: SERIF, s: 13, dy: 6 }]]);
panelLetter(69, 688, 'b');
txt(15, 566, 'Ang. diam. (mas)', { s: 11, a: 'middle' }).attr('transform', 'rotate(-90,15,566)');

// ---------- photometric panels ----------
const BLUE = '#4545b8', RED = '#b83636', LGREEN = '#9edc9e';
const MID = { x0: 659, x1: 914 }, RGT = { x0: 958, x1: 1213 };
const phot = [
  { L: 'd', col: MID, y0: 41, y1: 168, dom: [3.355, 4.531], ticks: [3.5, 4.5], model: vgcpdModel, nocse: vgcpdNoCSE,
    series: [['Barnes+ 1997', vgcpdBarnes, BLUE], ['Kiss+ 1998', vgcpdKiss, LGREEN], ['Moffet+1984', vgcpdMoffet, RED]], chi: '1.05', lab: 'V_GCPD', labX: 803 },
  { L: 'e', col: RGT, y0: 41, y1: 167, dom: [-3.43, -2.285], ticks: [-3], fmt: () => '−3', model: vwModel, nocse: vwNoCSE,
    series: [['Pel+ 1976', vwPel, BLUE]], chi: '0.53', lab: 'V_W', labX: 1128 },
  { L: 'f', col: MID, y0: 171, y1: 298, dom: [2.15, 2.783], ticks: [2.4], model: jModel, nocse: jNoCSE,
    series: [['Barnes+ 1997', jBarnes, BLUE], ['Welch+ 1984', jWelch, RED]], chi: '0.51', lab: 'J_CTIO', labX: 812 },
  { L: 'g', col: RGT, y0: 171, y1: 298, dom: [1.9, 2.276], ticks: [1.9, 2.1], model: hModel, nocse: hNoCSE,
    series: [['Barnes+ 1997', hBarnes, BLUE], ['Welch+ 1984', hWelch, RED]], chi: '0.47', lab: 'H_CTIO', labX: 1122 },
  { L: 'h', col: MID, y0: 302, y1: 429, dom: [1.824, 2.17], ticks: [1.9, 2.1], model: kModel, nocse: kNoCSE,
    series: [['Barnes+ 1997', kBarnes, BLUE], ['Welch+ 1984', kWelch, RED]], chi: '0.74', lab: 'K_CTIO', labX: 827 },
  { L: 'i', col: RGT, y0: 302, y1: 429, dom: [1.752, 2.045], ticks: [1.8, 2.0], model: i1Model, nocse: i1NoCSE,
    series: [['Monson+2012', i1Monson, BLUE]], chi: '2.49', lab: 'I1_SPITZER', labX: 1092 },
  { L: 'j', col: MID, y0: 432, y1: 559, dom: [1.731, 2.073], ticks: [1.8, 2.0], model: i2Model, nocse: i2NoCSE,
    series: [['Monson+2012', i2Monson, BLUE]], chi: '8.77', lab: 'I2_SPITZER', labX: 787 },
  { L: 'k', col: RGT, y0: 432, y1: 559, dom: [1.786, 2.081], ticks: [1.8, 2.0], model: w3Model, nocse: w3NoCSE, band: w3Band,
    series: [], chi: '0.00', lab: 'W3_WISE', labX: 1118, showX: true },
  { L: 'l', col: MID, y0: 563, y1: 690, dom: [1.730, 2.012], ticks: [1.8, 2.0], model: w4Model, nocse: w4NoCSE, band: w4Band,
    series: [], chi: '0.00', lab: 'W4_WISE', labX: 820, showX: true }
];
phot.forEach(P => {
  const b = { x0: P.col.x0, x1: P.col.x1, y0: P.y0, y1: P.y1 };
  const p = makePanel(b, P.dom, P.ticks, !!P.showX, P.fmt);
  if (P.band) {
    p.inner.append('rect').attr('x', b.x0).attr('width', b.x1 - b.x0)
      .attr('y', p.y(P.band[0] + P.band[1])).attr('height', p.y(P.band[0] - P.band[1]) - p.y(P.band[0] + P.band[1]))
      .attr('fill', '#c5c5eb');
  }
  curve(p, P.nocse, '#c6c6c6', 1.7, '6,3.5');
  curve(p, P.model, '#bcbcbc', 3.2);
  P.series.forEach(s => points(p, s[1], s[2], 1.8, 1.5));
  p.inner.append('text').attr('x', P.labX).attr('y', b.y1 - 13).attr('font-family', MONO).attr('font-size', 14.5)
    .attr('fill', '#c2c2c2').text(P.lab);
  frame(p);
  let row = 0;
  P.series.forEach(s => {
    const cy = b.y0 + 16.5 + 18 * row;
    errMark(b.x0 + 24, cy, s[2], 1.8, 0);
    txt(b.x0 + 48, cy + 4, s[0]);
    row++;
  });
  let cy = b.y0 + 16.5 + 18 * row;
  lineSample(b.x0 + 7, b.x0 + 40, cy, '#bcbcbc', 3.2);
  txt(b.x0 + 48, cy + 4, 'model');
  row++;
  cy = b.y0 + 16.5 + 18 * row;
  lineSample(b.x0 + 7, b.x0 + 40, cy, '#c6c6c6', 1.7, '6,3.5');
  txt(b.x0 + 48, cy + 4, 'no CSE');
  rich(b.x1 - 10, b.y0 + 19, chiParts(P.chi), 'end');
  const desc = (P.L === 'g' || P.L === 'j');
  panelLetter(b.x0 + 3, b.y1 - (desc ? 9 : 3), P.L);
});
</script></body></html>
